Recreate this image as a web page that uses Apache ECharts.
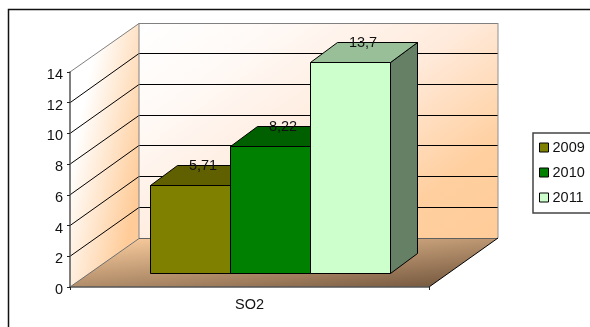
<!DOCTYPE html>
<html>
<head>
<meta charset="utf-8">
<style>html,body{margin:0;padding:0;background:#fff}#chart{width:590px;height:327px;overflow:hidden}</style>
<script src="https://cdn.jsdelivr.net/npm/echarts@6/dist/echarts.min.js"></script>
</head>
<body>
<div id="chart"></div>
<script>
// SO2 readings per year, drawn as pseudo-3D columns on a perspective box
const categories = ['SO2'];
const years = ['2009', '2010', '2011'];
const values2009 = [5.71];
const values2010 = [8.22];
const values2011 = [13.7];
const yTicks = [0, 2, 4, 6, 8, 10, 12, 14];

const colors = { '2009': '#808000', '2010': '#008000', '2011': '#CCFFCC' };
const FONT = '"Liberation Sans", Arial, sans-serif';

// Oblique projection of the box: room depth, and where the columns sit inside it
const ROOM = { dx: 69, dy: -49 };
const COL_FRONT = { dx: 20, dy: -14 };
const COL_DEPTH = { dx: 27, dy: -20 };
const COL_LEAD = 61 / 359;   // space before the first column, share of the band
const COL_WIDTH = 80 / 359;  // column width, share of the band

function shade(hex, k) {
  const n = parseInt(hex.slice(1), 16);
  const c = [(n >> 16) & 255, (n >> 8) & 255, n & 255].map(v => Math.round(v * k));
  return 'rgb(' + c.join(',') + ')';
}
const crisp = v => Math.floor(v) + 0.5;
const crispX = v => Math.round(v) - 0.5;
const poly = (points, style) => ({ type: 'polygon', shape: { points }, style });
const segment = (a, b, stroke, lineWidth) => ({
  type: 'line',
  shape: { x1: a[0], y1: a[1], x2: b[0], y2: b[1] },
  style: { stroke, lineWidth: lineWidth || 1, fill: null }
});
const shift = (p, o) => [p[0] + o.dx, p[1] + o.dy];

// Side wall, back wall and floor, with a grid line for every y tick
function renderRoom(params, api) {
  const center = api.coord([0, 0]);
  const band = api.size([1, 0])[0];
  const left = center[0] - band / 2;
  const right = center[0] + band / 2;
  const y0 = center[1];
  const yTop = api.coord([0, yTicks[yTicks.length - 1]])[1];
  const A = [left, y0], B = [right, y0], T = [left, yTop];
  const children = [
    poly([A, T, shift(T, ROOM), shift(A, ROOM)], {
      fill: new echarts.graphic.LinearGradient(0, 0.557, 0.99, 0.61, [
        { offset: 0, color: '#FFFFFF' }, { offset: 1, color: '#FFCC99' }
      ])
    }),
    poly([shift(A, ROOM), shift(T, ROOM), shift([right, yTop], ROOM), shift(B, ROOM)], {
      fill: new echarts.graphic.LinearGradient(0, 0, 0.63, 1.45, [
        { offset: 0, color: '#FFFFFF' }, { offset: 0.2, color: '#FFFAF7' },
        { offset: 0.5, color: '#FFEBDD' }, { offset: 0.8, color: '#FFCF9F' },
        { offset: 1, color: '#FFCC99' }
      ])
    }),
    poly([A, B, shift(B, ROOM), shift(A, ROOM)], {
      fill: new echarts.graphic.LinearGradient(0.16, 0, 0.18, 1.745, [
        { offset: 0, color: '#F6C99B' }, { offset: 0.86, color: '#7E6045' },
        { offset: 1, color: '#6D5239' }
      ])
    })
  ];
  yTicks.forEach(t => {
    const p = [left, api.coord([0, t])[1]];
    const top = t === yTicks[yTicks.length - 1];
    const bottom = t === 0;
    const stroke = top ? '#808080' : bottom ? '#606060' : '#000000';
    const backY = crisp(p[1] + ROOM.dy);
    children.push(segment(p, [left + ROOM.dx, backY], bottom ? '#707070' : stroke));
    children.push(segment([left + ROOM.dx, backY], [right + ROOM.dx, backY], stroke));
  });
  children.push(segment(shift(T, ROOM), shift(A, ROOM), '#808080'));
  children.push(segment(shift([right, yTop], ROOM), shift(B, ROOM), '#909090'));
  children.push(segment(B, shift(B, ROOM), '#000000'));
  return { type: 'group', silent: true, children };
}

// One column: front, top and right faces plus its value on the rear top edge
function columnRenderer(index, color) {
  return function (params, api) {
    const value = api.value(1);
    const center = api.coord([0, 0]);
    const band = api.size([1, 0])[0];
    const width = band * COL_WIDTH;
    const x0 = crispX(center[0] - band / 2 + band * COL_LEAD + index * width + COL_FRONT.dx);
    const x1 = crispX(center[0] - band / 2 + band * COL_LEAD + (index + 1) * width + COL_FRONT.dx);
    const base = crisp(center[1] + COL_FRONT.dy);
    const top = crisp(api.coord([0, value])[1] + COL_FRONT.dy);
    const p1 = [x0, top], p2 = [x1, top], p3 = [x1, base], p4 = [x0, base];
    const edge = { stroke: '#000000', lineWidth: 1, lineJoin: 'round' };
    const rearMid = [(x0 + x1) / 2 + 12.5, top + COL_DEPTH.dy];
    return {
      type: 'group',
      children: [
        poly([p2, p3, shift(p3, COL_DEPTH), shift(p2, COL_DEPTH)], { fill: shade(color, 0.5), ...edge }),
        poly([p1, p2, shift(p2, COL_DEPTH), shift(p1, COL_DEPTH)], { fill: shade(color, 0.75), ...edge }),
        poly([p1, p2, p3, p4], { fill: color, ...edge }),
        {
          type: 'text',
          style: {
            x: rearMid[0], y: rearMid[1],
            text: String(value).replace('.', ','),
            align: 'center', verticalAlign: 'middle',
            font: '14.5px ' + FONT, fill: '#111111'
          },
          z2: 10
        }
      ]
    };
  };
}

const columns = [values2009, values2010, values2011].map((vals, i) => ({
  name: years[i],
  type: 'custom',
  coordinateSystem: 'cartesian2d',
  renderItem: columnRenderer(i, colors[years[i]]),
  itemStyle: { color: colors[years[i]] },
  data: vals.map((v, j) => [j, v]),
  encode: { x: 0, y: 1 },
  clip: false,
  z: 3
}));

const chart = echarts.init(document.getElementById('chart'), null, { renderer: 'canvas' });
chart.setOption({
  animation: false,
  backgroundColor: '#ffffff',
  textStyle: { fontFamily: FONT },
  graphic: [{
    type: 'rect',
    shape: { x: 8.5, y: 9.5, width: 800, height: 600 },
    style: { fill: null, stroke: '#111111', lineWidth: 1.5 },
    silent: true,
    z: -1
  }],
  grid: { left: 70, top: 72, width: 359, height: 215 },
  xAxis: {
    type: 'category',
    data: categories,
    z: 5,
    axisLine: { lineStyle: { color: '#555555', width: 1.5 } },
    axisTick: { show: true, alignWithLabel: false, length: 3, lineStyle: { color: '#222222' } },
    axisLabel: { color: '#111111', fontSize: 14.5, fontFamily: FONT, margin: 10 },
    splitLine: { show: false }
  },
  yAxis: {
    type: 'value',
    min: 0, max: 14, interval: 2,
    z: 5,
    axisLine: { show: true, lineStyle: { color: '#555555', width: 1.5 } },
    axisTick: { show: true, length: 3, lineStyle: { color: '#222222' } },
    axisLabel: { color: '#111111', fontSize: 14.5, fontFamily: FONT, margin: 7, verticalAlign: 'top', lineHeight: 6 },
    splitLine: { show: false }
  },
  legend: {
    show: true,
    orient: 'vertical',
    left: 533, top: 133,
    padding: [6, 12, 7, 6],
    data: years.map(name => ({ name, icon: 'rect' })),
    itemWidth: 9, itemHeight: 9, itemGap: 8,
    itemStyle: { borderColor: '#000000', borderWidth: 1 },
    textStyle: { color: '#111111', fontSize: 14.5, fontFamily: FONT, padding: [0, 0, 0, -1], lineHeight: 17 },
    borderColor: '#444444', borderWidth: 1.5,
    selectedMode: false
  },
  tooltip: { show: false },
  series: [{
    name: 'room',
    type: 'custom',
    coordinateSystem: 'cartesian2d',
    renderItem: renderRoom,
    data: [[0, 0]],
    clip: false,
    silent: true,
    z: 1
  }].concat(columns)
});
</script>
</body>
</html>
